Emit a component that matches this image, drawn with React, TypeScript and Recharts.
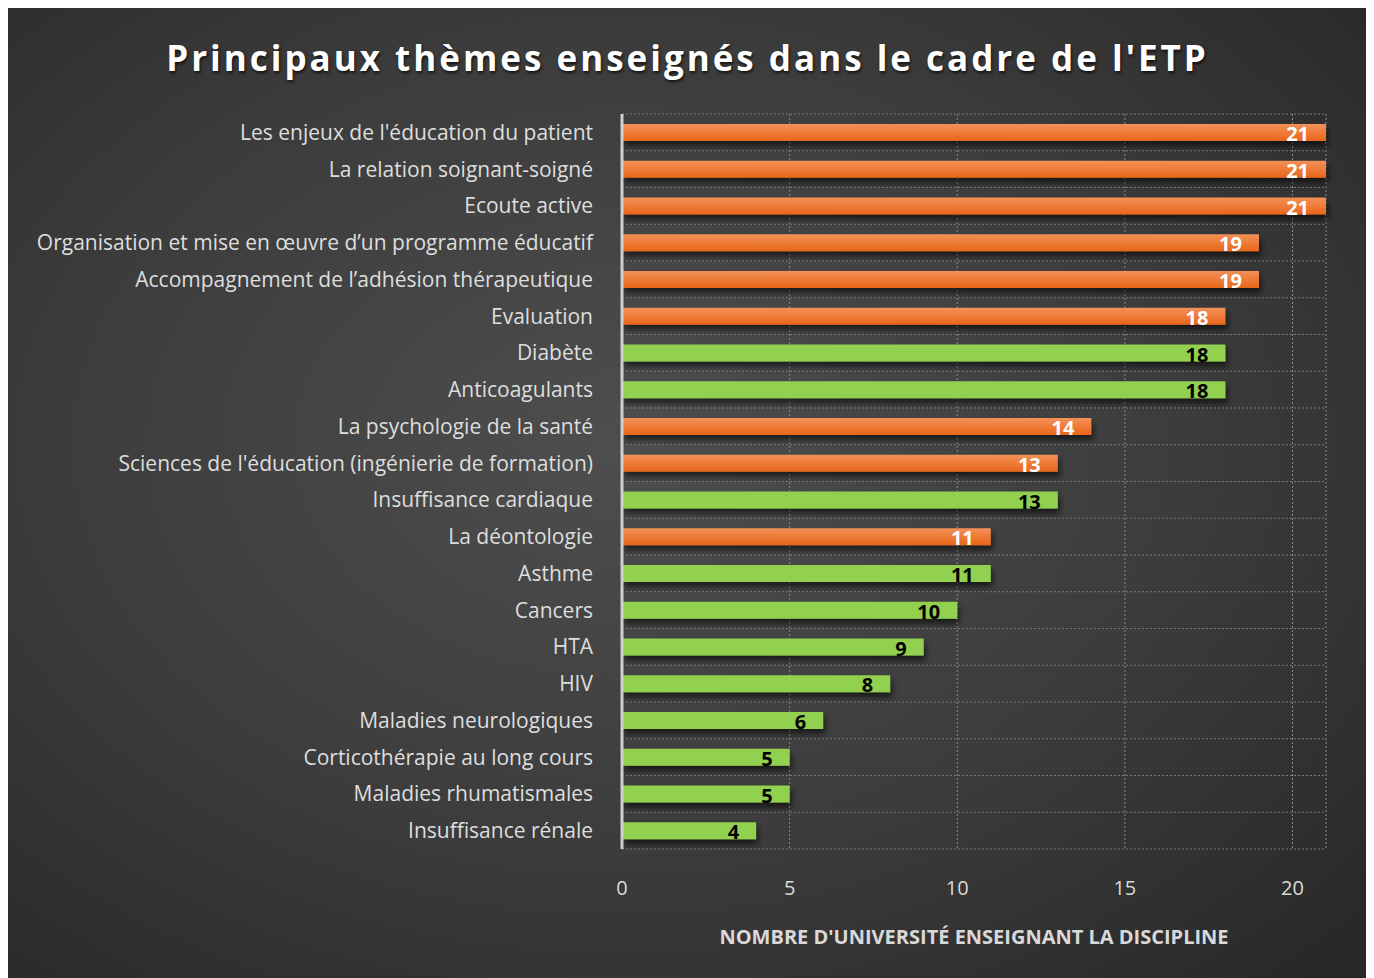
import React from 'react';
import {
  BarChart,
  Bar,
  XAxis,
  YAxis,
  CartesianGrid,
  Cell,
  LabelList,
  ReferenceLine,
} from 'recharts';

const themes = [
  "Les enjeux de l'éducation du patient",
  'La relation soignant-soigné',
  'Ecoute active',
  'Organisation et mise en œuvre d’un programme éducatif',
  'Accompagnement de l’adhésion thérapeutique',
  'Evaluation',
  'Diabète',
  'Anticoagulants',
  'La psychologie de la santé',
  "Sciences de l'éducation (ingénierie de formation)",
  'Insuffisance cardiaque',
  'La déontologie',
  'Asthme',
  'Cancers',
  'HTA',
  'HIV',
  'Maladies neurologiques',
  'Corticothérapie au long cours',
  'Maladies rhumatismales',
  'Insuffisance rénale',
];

const universities = [21, 21, 21, 19, 19, 18, 18, 18, 14, 13, 13, 11, 11, 10, 9, 8, 6, 5, 5, 4];

// 'g' = thème général (orange), 'p' = pathologie (vert)
const kinds = ['g', 'g', 'g', 'g', 'g', 'g', 'p', 'p', 'g', 'g', 'p', 'g', 'p', 'p', 'p', 'p', 'p', 'p', 'p', 'p'];

const xTicks = [0, 5, 10, 15, 20];

const data = themes.map((name, i) => ({ name, value: universities[i], kind: kinds[i] }));

const FONT = '"Open Sans", sans-serif';

function BarValue(props: any) {
  const { x, y, width, height, value, index } = props;
  const isGeneral = kinds[index] === 'g';
  return (
    <text
      x={x + width - 17}
      y={y + height / 2 + 1}
      textAnchor="end"
      dominantBaseline="central"
      fontFamily={FONT}
      fontWeight={700}
      fontSize={20}
      fill={isGeneral ? '#ffffff' : '#000000'}
    >
      {value}
    </text>
  );
}

export default function App() {
  return (
    <div
      style={{
        position: 'relative',
        width: 1359,
        height: 970,
        background:
          'radial-gradient(ellipse 75% 75% at 45% 45%, #4e4e4e 0%, #3c3c3c 55%, #282828 100%)',
        fontFamily: FONT,
      }}
    >
      <div
        style={{
          position: 'absolute',
          top: 26,
          left: 0,
          width: 1359,
          textAlign: 'center',
          color: '#ffffff',
          fontSize: 35,
          fontWeight: 700,
          letterSpacing: 3,
          textShadow: '1px 2px 3px rgba(0,0,0,0.7)',
        }}
      >
        Principaux thèmes enseignés dans le cadre de l'ETP
      </div>
      <BarChart
        width={1359}
        height={970}
        data={data}
        layout="vertical"
        barSize={17}
        margin={{ top: 106, right: 41, bottom: 29, left: 0 }}
      >
        <defs>
          <linearGradient id="orangeFill" x1="0" y1="0" x2="0" y2="1">
            <stop offset="0%" stopColor="#f39158" />
            <stop offset="100%" stopColor="#e8661a" />
          </linearGradient>
          <filter id="barShadow" x="-5%" y="-50%" width="110%" height="250%">
            <feDropShadow dx="2" dy="5" stdDeviation="3" floodColor="#000" floodOpacity="0.6" />
          </filter>
        </defs>
        <CartesianGrid
          horizontal={false}
          stroke="#8a8a8a"
          strokeDasharray="2 2"
        />
        {themes.map((t) => (
          <ReferenceLine
            key={t}
            y={t}
            position="start"
            stroke="#7a7a7a"
            strokeDasharray="2 2"
            ifOverflow="visible"
          />
        ))}
        <ReferenceLine
          y={themes[themes.length - 1]}
          position="end"
          stroke="#7a7a7a"
          strokeDasharray="2 2"
          ifOverflow="visible"
        />
        <XAxis
          type="number"
          domain={[0, 21]}
          ticks={xTicks}
          axisLine={false}
          tickLine={false}
          tickMargin={26}
          height={100}
          tick={{ fill: '#d9d9d9', fontSize: 20, fontFamily: FONT }}
          label={{
            value: "NOMBRE D'UNIVERSITÉ ENSEIGNANT LA DISCIPLINE",
            position: 'insideBottom',
            offset: 5,
            fill: '#d9d9d9',
            fontSize: 20,
            fontWeight: 700,
            fontFamily: FONT,
          }}
        />
        <YAxis
          type="category"
          dataKey="name"
          width={614}
          interval={0}
          axisLine={{ stroke: '#cfcfcf', strokeWidth: 3 }}
          tickLine={false}
          tickMargin={23}
          tick={{ fill: '#dedede', fontSize: 21, fontFamily: FONT }}
        />
        <Bar dataKey="value" isAnimationActive={false} filter="url(#barShadow)">
          {data.map((d) => (
            <Cell key={d.name} fill={d.kind === 'g' ? 'url(#orangeFill)' : '#92d050'} />
          ))}
          <LabelList dataKey="value" content={<BarValue />} />
        </Bar>
      </BarChart>
    </div>
  );
}
